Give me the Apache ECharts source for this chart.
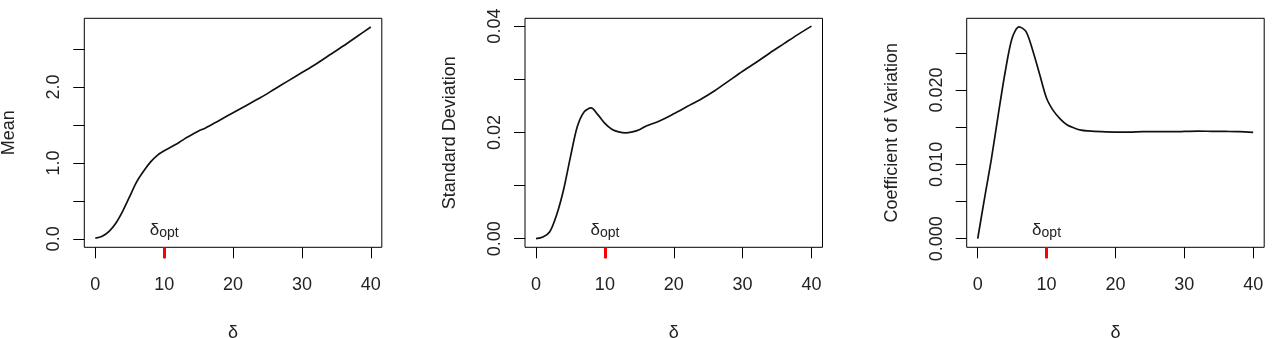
<!DOCTYPE html>
<html>
<head>
<meta charset="utf-8">
<script src="https://cdn.jsdelivr.net/npm/echarts@6/dist/echarts.min.js"></script>
<style>
html,body{margin:0;padding:0;background:#fff;}
#c{width:1275px;height:338px;}
</style>
</head>
<body>
<div id="c"></div>
<script>
// ---- data ----
const delta = [0,1,2,3,4,5,6,7,8,9,10,11,12,13,14,15,16,18,20,22,24,26,28,30,32,34,36,38,40];
const meanValues = [0.01,0.035,0.10,0.21,0.37,0.56,0.75,0.89,1.01,1.10,1.16,1.21,1.26,1.32,1.37,1.42,1.46,1.56,1.66,1.76,1.86,1.97,2.08,2.19,2.30,2.42,2.54,2.665,2.79];
const sdValues = [0,0.0003,0.0013,0.0045,0.0092,0.0154,0.0211,0.0239,0.0246,0.0233,0.0217,0.0206,0.0201,0.0199,0.0201,0.0205,0.0212,0.0222,0.0235,0.0249,0.0263,0.0279,0.0297,0.0315,0.0332,0.0350,0.0367,0.0384,0.0400];
const cvValues = [0,0.0055,0.0108,0.0168,0.0225,0.0270,0.0285,0.0279,0.0253,0.0221,0.0189,0.0172,0.0161,0.0153,0.0149,0.0146,0.0145,0.0144,0.01435,0.01435,0.0144,0.0144,0.0144,0.01443,0.01447,0.01445,0.01443,0.0144,0.0143];
const deltaOpt = 10;
const xTicks = [0,10,20,30,40];
const meanTicks = [0,0.5,1,1.5,2,2.5];
const meanLabels = [0,1,2];
const sdTicks = [0,0.01,0.02,0.03,0.04];
const sdLabels = [0,0.02,0.04];
const cvTicks = [0,0.005,0.01,0.015,0.02,0.025];
const cvLabels = [0,0.01,0.02];
const yTitles = ['Mean','Standard Deviation','Coefficient of Variation'];
const xTitle = 'δ';

// ---- layout ----
const FONT = '"Liberation Sans", Arial, Helvetica, sans-serif';
const FS = 18;
const TXT = '#222';
const panels = [
  {left:84.3, vals:meanValues, ymin:-0.111, ymax:2.904, ticks:meanTicks, labels:meanLabels, dec:1},
  {left:525, vals:sdValues, ymin:-0.00162, ymax:0.04147, ticks:sdTicks, labels:sdLabels, dec:2},
  {left:966.7, vals:cvValues, ymin:-0.00116, ymax:0.02966, ticks:cvTicks, labels:cvLabels, dec:3}
];
const grids=[], xAxes=[], yAxes=[], series=[];
panels.forEach((p,i)=>{
  grids.push({left:p.left, top:18.3, width:297.5, height:229, outerBoundsMode:'none', containLabel:false,
    show:true, borderColor:'#000', borderWidth:1, backgroundColor:'transparent'});
  xAxes.push({
    type:'value', gridIndex:i, min:-1.6, max:41.6, position:'bottom',
    name:xTitle, nameLocation:'middle', nameGap:77,
    nameTextStyle:{fontSize:FS, color:TXT, fontFamily:FONT},
    axisLine:{show:false, onZero:false}, splitLine:{show:false},
    axisTick:{show:true, length:11, customValues:xTicks, lineStyle:{color:'#000', width:1}},
    axisLabel:{show:true, customValues:xTicks, margin:29, fontSize:FS, color:TXT, fontFamily:FONT}
  });
  // red delta_opt tick and label
  xAxes.push({
    type:'value', gridIndex:i, min:-1.6, max:41.6, position:'bottom',
    axisLine:{show:false, onZero:false}, splitLine:{show:false},
    axisTick:{show:true, length:11, customValues:[deltaOpt], lineStyle:{color:'#ff0000', width:3}},
    axisLabel:{show:true, inside:true, margin:7, customValues:[deltaOpt],
      formatter:()=>'{d|δ}{s|opt}',
      rich:{
        d:{fontSize:17, color:TXT, fontFamily:FONT, lineHeight:18, verticalAlign:'top'},
        s:{fontSize:14, color:TXT, fontFamily:FONT, lineHeight:14, padding:[5,0,0,0], verticalAlign:'bottom'}
      }}
  });
  yAxes.push({
    type:'value', gridIndex:i, min:p.ymin, max:p.ymax, position:'left',
    name:yTitles[i], nameLocation:'middle', nameGap:66, nameRotate:90,
    nameTextStyle:{fontSize:FS, color:TXT, fontFamily:FONT},
    axisLine:{show:false, onZero:false}, splitLine:{show:false},
    axisTick:{show:true, length:11, customValues:p.ticks, lineStyle:{color:'#000', width:1}},
    axisLabel:{show:true, customValues:p.labels, rotate:90, margin:21, fontSize:FS, color:TXT, fontFamily:FONT,
      formatter:(v)=>Number(v).toFixed(p.dec)}
  });
  series.push({
    type:'line', xAxisIndex:2*i, yAxisIndex:i, showSymbol:false, symbol:'none',
    smooth:0.3,
    lineStyle:{color:'#111', width:1.7}, animation:false,
    data: delta.map((d,k)=>[d,p.vals[k]])
  });
});

const chart = echarts.init(document.getElementById('c'), null, {renderer:'canvas'});
chart.setOption({animation:false, backgroundColor:'#fff', grid:grids, xAxis:xAxes, yAxis:yAxes, series:series});
</script>
</body>
</html>
